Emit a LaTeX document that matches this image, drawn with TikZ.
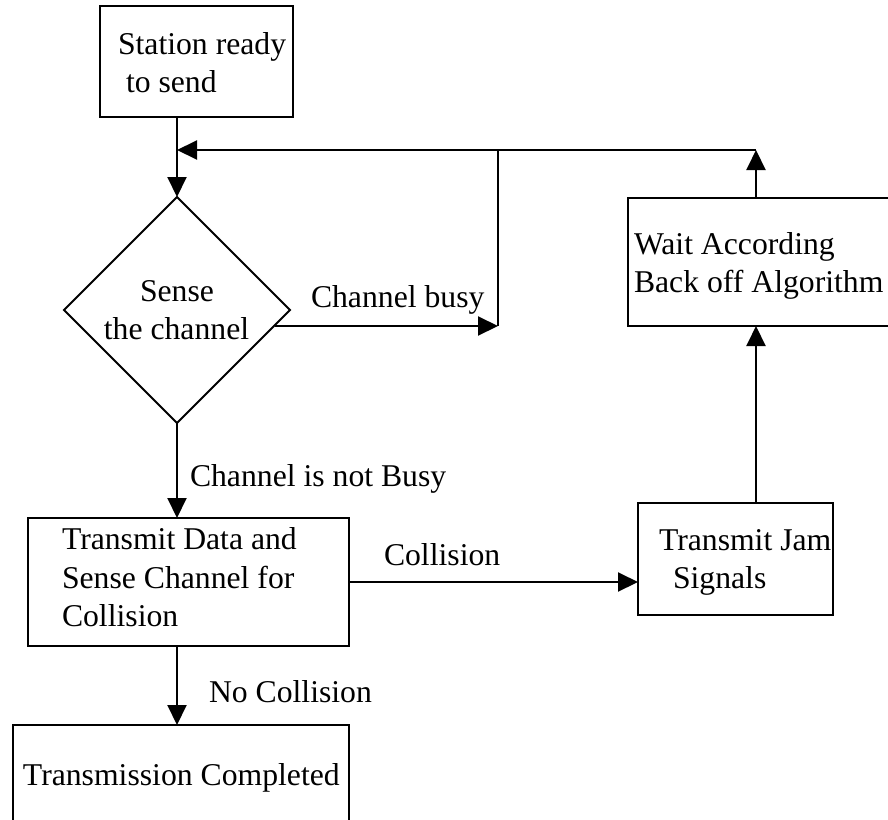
\documentclass[tikz,border=0pt]{standalone}
\usepackage{fontspec}
\setmainfont{Liberation Serif}
\usetikzlibrary{shapes.geometric,arrows.meta}
\begin{document}
\begin{tikzpicture}[x=1pt,y=-1pt,line width=2pt,
  font=\fontsize{31.7}{37.7}\selectfont,
  box/.style={draw,rectangle,inner sep=0pt,outer sep=0pt},
  decision/.style={draw,diamond,inner sep=0pt,outer sep=0pt},
  txt/.style={anchor=base west,inner sep=0pt},
  ctxt/.style={anchor=base,inner sep=0pt},
  arr/.style={-{Triangle[length=20pt,width=19pt]}}]
\useasboundingbox (0,0) rectangle (888,819);
\fill[white] (0,0) rectangle (888,819);
\clip (0,0) rectangle (888,819);

% shapes
\node[box,minimum width=193pt,minimum height=111pt] (s) at (196.5,61.5) {};
\node[decision,minimum width=226pt,minimum height=226pt] (d) at (177,310) {};
\node[box,minimum width=321pt,minimum height=128pt] (t) at (188.5,582) {};
\node[box,minimum width=195pt,minimum height=112pt] (j) at (735.5,559) {};
\node[box,minimum width=272pt,minimum height=128pt] (w) at (764,262) {};
\node[box,minimum width=336pt,minimum height=135pt] (c) at (181,792.5) {};

% routing points
\coordinate (mg) at (177,150);
\coordinate (tr) at (756,150);
\coordinate (jn) at (498,150);
\coordinate (busy) at (498,326);

% texts
\node[txt] (s1) at (117,54) {Station ready};
\node[txt] (s2) at (125,92) {to send};
\node[ctxt] (d1) at (177,301) {Sense};
\node[ctxt] (d2) at (176.5,339) {the channel};
\node[txt] (w1) at (633,254) {Wait According};
\node[txt] (w2) at (633,292) {Back off Algorithm};
\node[txt] (t1) at (61,549) {Transmit Data and};
\node[txt] (t2) at (61,588) {Sense Channel for};
\node[txt] (t3) at (61,626) {Collision};
\node[txt] (j1) at (658,550) {Transmit Jam};
\node[txt] (j2) at (672,588) {Signals};
\node[txt] (c1) at (22,785) {Transmission Completed};

% connector labels
\node[txt] (lbusy) at (310,307) {Channel busy};
\node[txt] (lnot) at (189,486) {Channel is not Busy};
\node[txt] (lcol) at (383,565) {Collision};
\node[txt] (lnocol) at (208,702) {No Collision};

% connectors
\draw[arr] (mg |- s.south) -- (mg |- d.north);
\draw[arr] (tr) -- (mg);
\draw (jn) -- (busy);
\draw[arr] (busy -| d.-9.7) -- (busy);
\draw[arr] (d.south) -- (d.south |- t.north);
\draw[arr] (t.east) -- (t.east -| j.west);
\draw[arr] (tr |- j.north) -- (tr |- w.south);
\draw[arr] (tr |- w.north) -- (tr);
\draw[arr] (d.south |- t.south) -- (d.south |- c.north);
\end{tikzpicture}
\end{document}
